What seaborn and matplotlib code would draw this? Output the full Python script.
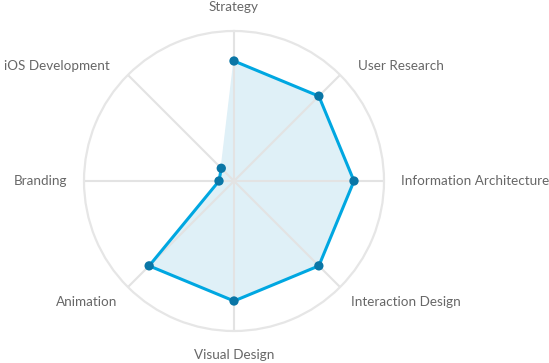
import numpy as np
import pandas as pd
import matplotlib
matplotlib.use("Agg")
import matplotlib.pyplot as plt
import seaborn as sns

categories = ["Strategy", "User Research", "Information Architecture",
              "Interaction Design", "Visual Design", "Animation",
              "Branding", "iOS Development"]
values = [0.8, 0.8, 0.8, 0.8, 0.8, 0.8, 0.1, 0.12]

sns.set_style("white")
plt.rcParams['font.family'] = ['Lato', 'DejaVu Sans']

fig = plt.figure(figsize=(5.49, 3.63), dpi=100)
ax = fig.add_axes([84/549, 32/363, 300/549, 300/363], projection="polar")
ax.set_theta_offset(np.pi / 2)
ax.set_theta_direction(-1)

n = len(categories)
theta = np.arange(n) * 2 * np.pi / n
df = pd.DataFrame({"theta": np.append(theta, theta[0]),
                   "value": values + values[:1]})

ax.fill(df["theta"], df["value"], color="#dff0f7", zorder=1)
sns.lineplot(data=df, x="theta", y="value", ax=ax, sort=False,
             color="#00a7e1", linewidth=2.2, zorder=3)
sns.scatterplot(data=df.iloc[:-1], x="theta", y="value", ax=ax,
                color="#0a76a6", s=45, edgecolor="none", zorder=4)

ax.set_ylim(0, 1)
ax.set_yticks([])
ax.set_xticks(theta)
ax.set_xticklabels([])
ax.grid(False)
for t in theta:
    ax.plot([t, t], [0, 1], color="#e3e3e3", linewidth=1.5, zorder=2)
ax.spines["polar"].set_color("#e6e6e6")
ax.spines["polar"].set_linewidth(1.6)
ax.set_xlabel("")
ax.set_ylabel("")

# pixel offsets (x right, y up) from the point on the outer circle
for t, lab in zip(theta, categories):
    s = np.sin(t)
    c = np.cos(t)
    if abs(s) < 1e-6:
        ha = "center"
        off = (0, 24 if c > 0 else -24)
    elif abs(c) < 1e-6:
        ha = "left" if s > 0 else "right"
        off = (17 if s > 0 else -17, 0)
    elif c > 0:
        ha = "left" if s > 0 else "right"
        off = (18 * np.sign(s), 9)
    else:
        ha = "left" if s > 0 else "right"
        off = (11 * np.sign(s), -15)
    ax.annotate(lab, xy=(t, 1.0), xytext=(off[0] * 0.72, off[1] * 0.72),
                textcoords="offset points", ha=ha, va="center",
                fontsize=9.7, color="#676767", annotation_clip=False)

fig.savefig("out.png", dpi=100)
